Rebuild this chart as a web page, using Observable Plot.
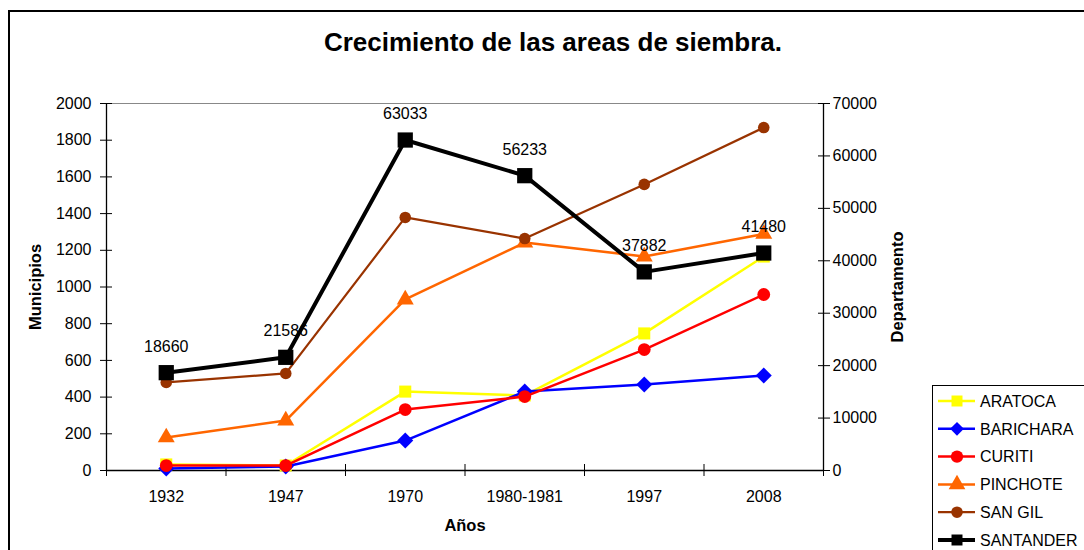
<!DOCTYPE html>
<html>
<head>
<meta charset="utf-8">
<script src="https://cdn.jsdelivr.net/npm/d3@7"></script>
<script src="https://cdn.jsdelivr.net/npm/@observablehq/plot@0.6"></script>
<style>
  html, body { margin: 0; padding: 0; background: #fff; }
  #chart { position: relative; width: 1084px; height: 550px; overflow: hidden; }
</style>
</head>
<body>
<div id="chart"></div>
<script>
// ---- Data ----
const categories = ["1932", "1947", "1970", "1980-1981", "1997", "2008"];
const aratoca   = [33, 27, 430, 409, 747, 1166];
const barichara = [11, 22, 163, 430, 469, 518];
const curiti    = [27, 27, 332, 403, 659, 959];
const pinchote  = [180, 272, 932, 1242, 1166, 1289];
const sanGil    = [480, 529, 1379, 1264, 1559, 1869];
const santander = [18660, 21586, 63033, 56233, 37882, 41480]; // right axis (Departamento)

const leftTicks  = [0, 200, 400, 600, 800, 1000, 1200, 1400, 1600, 1800, 2000];
const rightTicks = [0, 10000, 20000, 30000, 40000, 50000, 60000, 70000];
const leftMax = 2000, rightMax = 70000;
const k = leftMax / rightMax; // map right-axis values onto left scale

const series = [
  {name: "ARATOCA",   values: aratoca,   color: "#FFFF00", symbol: "square",   r: 6.8, sw: 2.5, scale: 1},
  {name: "BARICHARA", values: barichara, color: "#0000FF", symbol: "diamond2", r: 7.2, sw: 2.5, scale: 1},
  {name: "CURITI",    values: curiti,    color: "#FF0000", symbol: "circle",   r: 6.4, sw: 2.5, scale: 1},
  {name: "PINCHOTE",  values: pinchote,  color: "#FF6600", symbol: "triangle", r: 6.3, sw: 2.5, scale: 1},
  {name: "SAN GIL",   values: sanGil,    color: "#993300", symbol: "circle",   r: 5.8, sw: 2.2, scale: 1},
  {name: "SANTANDER", values: santander, color: "#000000", symbol: "square",   r: 8.6, sw: 4,   scale: k}
];

const font = "Liberation Sans, Arial, Helvetica, sans-serif";

const marks = [
  // plot-area top border
  Plot.ruleY([leftMax], {stroke: "#888", strokeWidth: 1}),
  // axes lines
  Plot.ruleY([0], {stroke: "#000", strokeWidth: 1.3}),
  Plot.ruleX([-0.5], {stroke: "#000", strokeWidth: 1.3}),
  Plot.ruleX([5.5], {stroke: "#000", strokeWidth: 1.3}),
  // left axis (cross ticks)
  Plot.axisY(leftTicks, {anchor: "left", tickSize: 6, tickPadding: 9, fontSize: 16, label: null,
    tickFormat: d => String(d)}),
  Plot.axisY(leftTicks, {anchor: "left", tickSize: 6, dx: 6, tickFormat: () => "", label: null}),
  // right axis (cross ticks)
  Plot.axisY(rightTicks.map(v => v * k), {anchor: "right", tickSize: 6, tickPadding: 3, fontSize: 16, label: null,
    tickFormat: d => String(Math.round(d / k))}),
  Plot.axisY(rightTicks.map(v => v * k), {anchor: "right", tickSize: 6, dx: -6, tickFormat: () => "", label: null}),
  // x axis
  Plot.axisX(d3.range(categories.length + 1).map(i => i - 0.5), {anchor: "bottom", tickSize: 6, tickFormat: () => "", label: null}),
  Plot.axisX(d3.range(categories.length + 1).map(i => i - 0.5), {anchor: "bottom", tickSize: 6, dy: -6, tickFormat: () => "", label: null}),
  Plot.axisX(d3.range(categories.length), {anchor: "bottom", tickSize: 0, tickPadding: 20, fontSize: 16, label: null,
    tickFormat: i => categories[i]}),
  // axis titles
  Plot.text(["Municipios"], {frameAnchor: "left", dx: -71, rotate: -90, textAnchor: "middle", fontSize: 16.5, fontWeight: "bold", text: d => d}),
  Plot.text(["Departamento"], {frameAnchor: "right", dx: 74, rotate: -90, textAnchor: "middle", fontSize: 16.5, fontWeight: "bold", text: d => d}),
  Plot.text(["Años"], {frameAnchor: "bottom", dy: 55, textAnchor: "middle", fontSize: 16.5, fontWeight: "bold", text: d => d, lineAnchor: "middle"})
];

for (const s of series) {
  const rows = s.values.map((v, i) => ({i, v, y: v * s.scale}));
  marks.push(Plot.line(rows, {x: "i", y: "y", stroke: s.color, strokeWidth: s.sw, curve: "linear"}));
  marks.push(Plot.dot(rows, {x: "i", y: "y", fill: s.color, stroke: "none", symbol: s.symbol, r: s.r}));
}
// SANTANDER data labels
marks.push(Plot.text(santander.map((v, i) => ({i, v, y: v * k})), {
  x: "i", y: "y", text: d => String(d.v), dy: -26, fontSize: 16, fill: "#000", textAnchor: "middle", lineAnchor: "middle"
}));

const chart = Plot.plot({
  width: 1084,
  height: 550,
  marginLeft: 106,
  marginRight: 261,
  marginTop: 103,
  marginBottom: 80,
  x: {domain: [-0.5, categories.length - 0.5], type: "linear"},
  y: {domain: [0, leftMax], type: "linear"},
  style: {fontFamily: font, fontSize: "16px", color: "#000", background: "#fff", overflow: "visible"},
  marks
});

const svg = d3.select(chart);
// outer chart-area frame
svg.insert("rect", ":first-child")
  .attr("x", 9).attr("y", 11).attr("width", 1200).attr("height", 700)
  .attr("fill", "none").attr("stroke", "#000").attr("stroke-width", 2);

// title
svg.append("text")
  .attr("x", 553).attr("y", 51)
  .attr("text-anchor", "middle")
  .attr("font-family", font).attr("font-size", 26).attr("font-weight", "bold")
  .text("Crecimiento de las areas de siembra.");

// legend
const lg = svg.append("g").attr("font-family", font).attr("font-size", 16).attr("text-anchor", "start");
lg.append("rect").attr("x", 932.5).attr("y", 385.5).attr("width", 200).attr("height", 200)
  .attr("fill", "#fff").attr("stroke", "#000").attr("stroke-width", 1);
const symMap = {square: d3.symbolSquare, diamond2: d3.symbolDiamond2, circle: d3.symbolCircle, triangle: d3.symbolTriangle};
series.forEach((s, j) => {
  const yy = 401 + j * 27.8;
  lg.append("line").attr("x1", 938).attr("x2", 975).attr("y1", yy).attr("y2", yy)
    .attr("stroke", s.color).attr("stroke-width", s.sw);
  const rr = Math.min(s.r, 6.2);
  lg.append("path").attr("transform", `translate(957,${yy})`)
    .attr("d", d3.symbol(symMap[s.symbol], Math.PI * rr * rr)())
    .attr("fill", s.color);
  lg.append("text").attr("x", 980).attr("y", yy).attr("dy", "0.36em").attr("text-anchor", "start").text(s.name);
});

document.getElementById("chart").appendChild(chart);
</script>
</body>
</html>
